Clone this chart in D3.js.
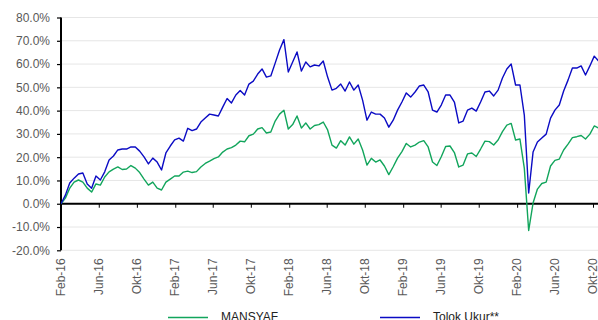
<!DOCTYPE html>
<html>
<head>
<meta charset="utf-8">
<script src="https://cdn.jsdelivr.net/npm/d3@7"></script>
<style>
  html, body { margin: 0; padding: 0; background: #fff; }
  svg { display: block; font-family: "Liberation Sans", Arial, sans-serif; }
</style>
</head>
<body>
<svg id="chart" width="598" height="320"></svg>
<script>
// Cumulative return (%) sampled every two weeks from 1 Feb 2016
const startDate = "2016-02-01";
const stepDays = 14;

const mansyaf = [
  0, 2.4, 6.7, 9.3, 10.2, 9.3, 6.7, 5.0, 8.5, 8.0,
  11.5, 13.7, 14.9, 15.8, 14.7, 14.9, 16.4, 15.3, 13.4, 10.6,
  8.0, 9.3, 6.7, 5.9, 9.3, 10.6, 11.9, 11.9, 13.6, 14.0,
  13.4, 13.8, 15.8, 17.3, 18.3, 19.4, 20.1, 22.2, 23.5, 24.1,
  25.2, 26.9, 26.6, 29.2, 29.9, 32.1, 32.7, 30.4, 30.8, 35.5,
  38.5, 40.2, 32.1, 34.0, 37.7, 32.5, 34.7, 32.1, 33.6, 34.0,
  35.1, 31.7, 25.2, 23.9, 27.1, 25.2, 28.7, 25.6, 27.8, 23.1,
  16.6, 19.5, 17.9, 18.8, 16.2, 12.5, 15.9, 19.6, 22.4, 25.9,
  24.4, 25.2, 26.5, 27.1, 24.4, 17.9, 16.4, 20.2, 24.6, 24.8,
  22.0, 15.8, 16.6, 21.4, 21.8, 20.3, 23.5, 26.9, 26.7, 25.2,
  27.4, 31.0, 33.8, 34.5, 27.4, 27.8, 15.3, -11.5, 0.3, 6.3,
  8.7, 9.3, 16.2, 18.6, 19.2, 23.1, 25.6, 28.4, 28.8, 29.3,
  27.8, 29.9, 33.4, 32.5
];

const tolokUkur = [
  0, 3.7, 8.9, 11.0, 12.8, 13.2, 8.5, 6.7, 11.9, 10.2,
  13.7, 18.8, 20.5, 23.1, 23.5, 23.5, 24.4, 24.4, 22.6, 20.1,
  17.1, 19.6, 17.9, 14.5, 21.8, 24.8, 27.4, 28.2, 26.9, 32.4,
  31.4, 32.1, 35.1, 36.8, 38.5, 38.1, 37.7, 41.5, 45.2, 43.3,
  46.7, 48.6, 46.7, 51.4, 52.7, 55.7, 57.9, 54.4, 54.9, 60.4,
  66.0, 70.5, 56.6, 60.9, 65.2, 57.0, 60.9, 58.8, 59.6, 59.2,
  61.3, 54.4, 48.8, 49.6, 51.4, 48.4, 52.3, 48.8, 51.0, 44.5,
  35.9, 39.4, 38.5, 38.5, 36.8, 32.9, 35.9, 40.2, 43.7, 47.6,
  45.8, 48.0, 50.6, 51.0, 48.0, 40.2, 39.4, 42.4, 46.7, 46.7,
  43.7, 34.7, 35.5, 40.2, 41.1, 39.8, 43.7, 48.0, 48.4, 46.3,
  48.8, 54.0, 57.9, 60.0, 51.0, 51.0, 38.1, 4.6, 22.2, 26.5,
  28.2, 29.9, 36.8, 40.2, 42.4, 48.4, 53.1, 58.3, 58.3, 59.2,
  55.3, 59.2, 63.4, 61.3
];

const seriesNames = ["MANSYAF", "Tolok Ukur**"];
const seriesColors = ["#12a55c", "#0b0bc4"];

const yTicks = [-20, -10, 0, 10, 20, 30, 40, 50, 60, 70, 80];
const xTickLabels = [
  "Feb-16", "Jun-16", "Okt-16", "Feb-17", "Jun-17", "Okt-17", "Feb-18", "Jun-18",
  "Okt-18", "Feb-19", "Jun-19", "Okt-19", "Feb-20", "Jun-20", "Okt-20"
];

// Month abbreviations used in the labels (Indonesian)
const monthIndex = { Jan: 0, Feb: 1, Mar: 2, Apr: 3, Mei: 4, Jun: 5, Jul: 6, Agu: 7, Sep: 8, Okt: 9, Nov: 10, Des: 11 };
const parseLabel = s => {
  const [m, y] = s.split("-");
  return new Date(2000 + +y, monthIndex[m], 1);
};

const W = 598, H = 320;
const plot = { left: 61, right: 598, top: 17.5, bottom: 250.3 };

const svg = d3.select("#chart");

const start = d3.isoParse(startDate + "T00:00:00");
const s0 = new Date(start.getFullYear(), start.getMonth(), start.getDate());
const dateAt = i => d3.timeDay.offset(s0, i * stepDays);

const x = d3.scaleTime()
  .domain([parseLabel(xTickLabels[0]), parseLabel(xTickLabels[xTickLabels.length - 1])])
  .range([61, 593]);

const y = d3.scaleLinear()
  .domain([-20, 80])
  .range([plot.bottom, plot.top]);

// Horizontal gridlines
svg.append("g")
  .selectAll("line")
  .data(yTicks)
  .join("line")
  .attr("x1", plot.left)
  .attr("x2", plot.right)
  .attr("y1", d => y(d))
  .attr("y2", d => y(d))
  .attr("stroke", "#e6e6e6")
  .attr("stroke-width", 1);

// Y axis
const yAxis = d3.axisLeft(y)
  .tickValues(yTicks)
  .tickSize(4)
  .tickPadding(7)
  .tickFormat(d => d.toFixed(1) + "%");

const gy = svg.append("g")
  .attr("transform", `translate(${plot.left},0)`)
  .call(yAxis);
gy.select(".domain").attr("stroke", "#000").attr("stroke-width", 2)
  .attr("d", `M0,${plot.top}V${plot.bottom}`);
gy.selectAll(".tick line").attr("stroke", "#000").attr("stroke-width", 1.2);
gy.selectAll(".tick text")
  .attr("fill", "#595959")
  .style("font-size", "12px");

// Zero line with month ticks
const tickDates = xTickLabels.map(parseLabel);
const xAxis = d3.axisBottom(x)
  .tickValues(tickDates)
  .tickSize(4)
  .tickFormat("");

const gx = svg.append("g")
  .attr("transform", `translate(0,${y(0)})`)
  .call(xAxis);
gx.select(".domain").attr("stroke", "#000").attr("stroke-width", 2)
  .attr("d", `M${plot.left},0H${plot.right}`);
gx.selectAll(".tick line").attr("stroke", "#000").attr("stroke-width", 1);

// Rotated month labels below the plot
svg.append("g")
  .selectAll("text")
  .data(xTickLabels)
  .join("text")
  .attr("transform", d => `translate(${x(parseLabel(d))},${plot.bottom + 8}) rotate(-90)`)
  .attr("text-anchor", "end")
  .attr("dy", "0.35em")
  .attr("fill", "#595959")
  .style("font-size", "12px")
  .text(d => d);

// Series lines
svg.append("clipPath").attr("id", "plotClip")
  .append("rect")
  .attr("x", plot.left).attr("y", 0)
  .attr("width", plot.right - plot.left).attr("height", H);

const line = d3.line()
  .x((d, i) => x(dateAt(i)))
  .y(d => y(d));

const lines = svg.append("g").attr("clip-path", "url(#plotClip)");
[mansyaf, tolokUkur].forEach((vals, k) => {
  lines.append("path")
    .datum(vals)
    .attr("fill", "none")
    .attr("stroke", seriesColors[k])
    .attr("stroke-width", 1.4)
    .attr("stroke-linejoin", "round")
    .attr("d", line);
});

// Legend
const legendX = [168, 380];
const legend = svg.append("g");
seriesNames.forEach((name, k) => {
  legend.append("line")
    .attr("x1", legendX[k]).attr("x2", legendX[k] + 40)
    .attr("y1", 317.5).attr("y2", 317.5)
    .attr("stroke", seriesColors[k])
    .attr("stroke-width", 1.4);
  legend.append("text")
    .attr("x", legendX[k] + 53)
    .attr("y", 320.5)
    .attr("fill", "#222")
    .style("font-size", "12px")
    .text(name);
});
</script>
</body>
</html>
